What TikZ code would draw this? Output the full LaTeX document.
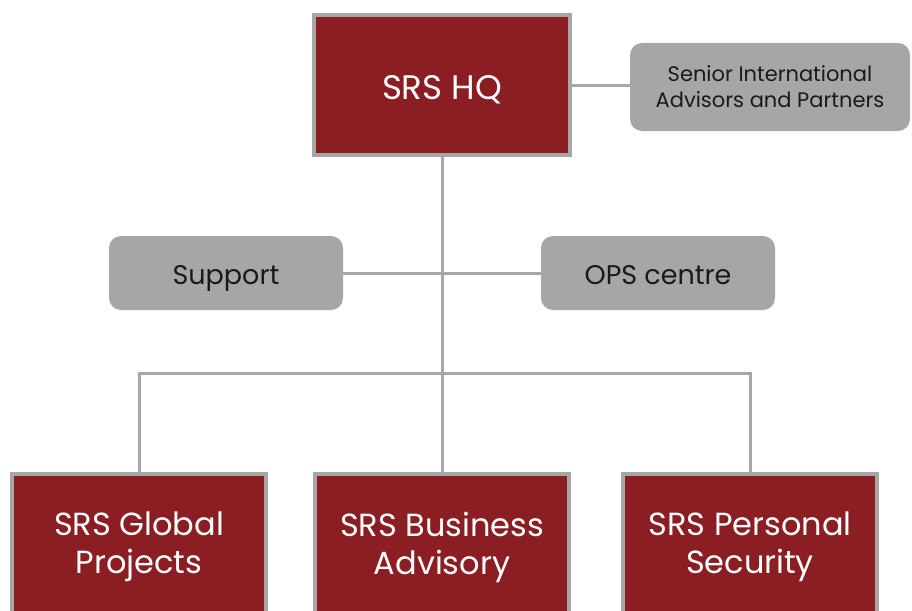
\documentclass[tikz,border=0pt]{standalone}
\usepackage{fontspec}
\setmainfont{Poppins}
\usepackage{tikz}

\definecolor{srsred}{HTML}{8B1E22}
\definecolor{srsgrey}{HTML}{A6A6A6}
\definecolor{srsink}{HTML}{1A1A1A}

\begin{document}
\begin{tikzpicture}[x=1pt,y=-1pt]
\tikzstyle{redbox}=[draw=srsgrey, line width=4pt, fill=srsred, text=white, inner sep=0pt, font=\fontsize{32}{38}\selectfont]
\tikzstyle{greybox}=[fill=srsgrey, rounded corners=12pt, text=srsink, inner sep=0pt]
\tikzstyle{oneline}=[text height=#1, text depth=0pt]
\tikzstyle{twoline}=[align=center]
\tikzstyle{link}=[draw=srsgrey, line width=3pt]
\useasboundingbox (0,0) rectangle (912,610);
\clip (0,0) rectangle (912,610);
% top
\node[redbox, oneline=28pt, minimum width=256pt, minimum height=140pt, font=\fontsize{34}{38}\selectfont] (hq) at (442,85) {SRS HQ};
\node[greybox, twoline, minimum width=280pt, minimum height=88pt, font=\fontsize{21}{26}\selectfont] (sia) at (770,87) {Senior International\\Advisors and Partners};
% middle
\node[greybox, oneline=22pt, minimum width=234pt, minimum height=74pt, font=\fontsize{27}{30}\selectfont] (sup) at (226,273) {Support};
\node[greybox, oneline=22pt, minimum width=234pt, minimum height=74pt, font=\fontsize{27}{30}\selectfont] (ops) at (658,273) {OPS centre};
% bottom
\node[redbox, twoline, minimum width=254pt, minimum height=146pt, anchor=north] (gp) at (139,472) {SRS Global\\Projects};
\node[redbox, twoline, minimum width=254pt, minimum height=146pt, anchor=north] (ba) at (442,472) {SRS Business\\Advisory};
\node[redbox, twoline, minimum width=254pt, minimum height=146pt, anchor=north] (ps) at (750,472) {SRS Personal\\Security};
\coordinate (jn) at (442,373);
% links
\draw[link] (hq.east) -- (sia.west |- hq.east);
\draw[link] (sup.east) -- (ops.west);
\draw[link] (hq.south) -- (ba.north);
\draw[link] (jn) -| (gp.north);
\draw[link] (jn) -| (ps.north);
\end{tikzpicture}
\end{document}
